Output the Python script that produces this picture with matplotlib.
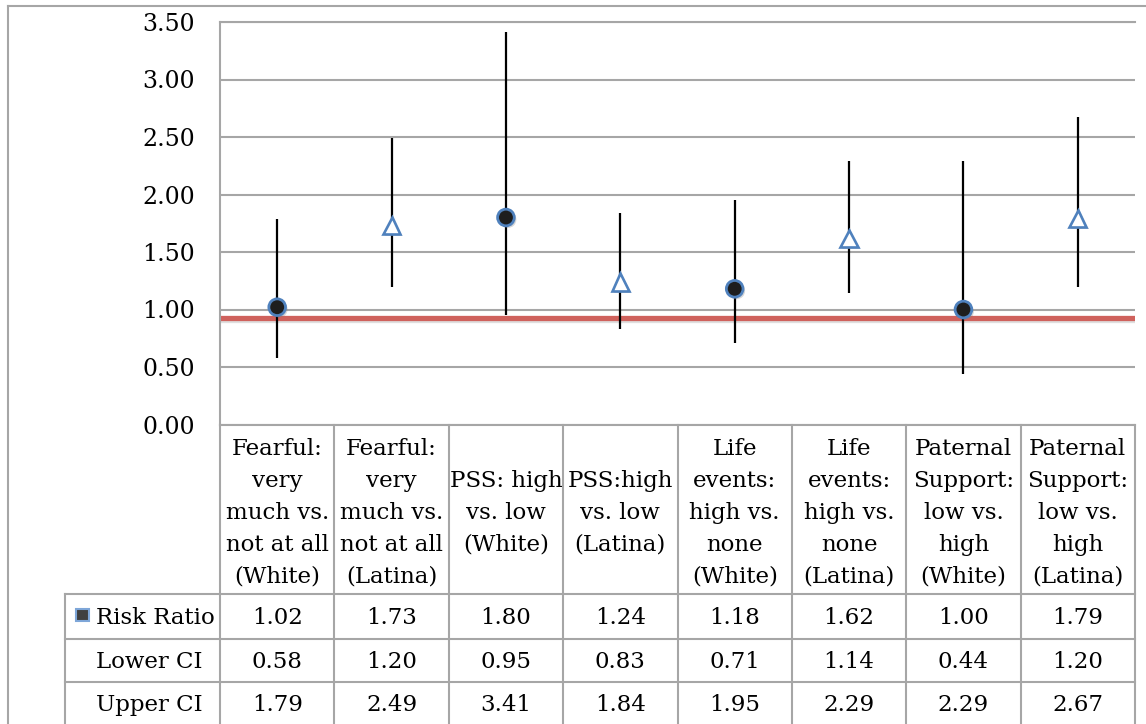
import matplotlib as mpl

mpl.use("Agg")

import matplotlib.pyplot as plt
import matplotlib.patheffects as pe
import numpy as np
from matplotlib.lines import Line2D
from matplotlib.patches import Rectangle
from matplotlib.transforms import blended_transform_factory


CATEGORIES = [
    "Fearful:\nvery\nmuch vs.\nnot at all\n(White)",
    "Fearful:\nvery\nmuch vs.\nnot at all\n(Latina)",
    "PSS: high\nvs. low\n(White)",
    "PSS:high\nvs. low\n(Latina)",
    "Life\nevents:\nhigh vs.\nnone\n(White)",
    "Life\nevents:\nhigh vs.\nnone\n(Latina)",
    "Paternal\nSupport:\nlow vs.\nhigh\n(White)",
    "Paternal\nSupport:\nlow vs.\nhigh\n(Latina)",
]
GROUPS = ["White", "Latina", "White", "Latina", "White", "Latina", "White", "Latina"]
RISK_RATIO = [1.02, 1.73, 1.80, 1.24, 1.18, 1.62, 1.00, 1.79]
LOWER_CI = [0.58, 1.20, 0.95, 0.83, 0.71, 1.14, 0.44, 1.20]
UPPER_CI = [1.79, 2.49, 3.41, 1.84, 1.95, 2.29, 2.29, 2.67]
ROW_NAMES = ["Risk Ratio", "Lower CI", "Upper CI"]
REFERENCE_LEVEL = 0.93
Y_TICKS = [0.0, 0.5, 1.0, 1.5, 2.0, 2.5, 3.0, 3.5]

W, H = 1146, 724
FONT = "DejaVu Serif"
FS = 16.5
GRID = "#a6a6a6"
BLUE = "#4f81bd"
RED = "#cf615c"

plt.rcParams["font.family"] = FONT

fig = plt.figure(figsize=(W / 100, H / 100), dpi=100)
fig.patch.set_facecolor("white")

# plot area in pixel terms
left_px, right_px, top_px, zero_px = 220, 1135, 22, 424.5
ax = fig.add_axes([left_px / W, 1 - zero_px / H, (right_px - left_px) / W, (zero_px - top_px) / H])


def fy(y_px):
    return 1 - y_px / H


def fx(x_px):
    return x_px / W


x = np.arange(len(CATEGORIES))

# reference line
ax.axhline(
    REFERENCE_LEVEL,
    color=RED,
    linewidth=3.8,
    zorder=2,
    path_effects=[pe.SimpleLineShadow(offset=(1, -1.5), alpha=0.25, shadow_color="gray"), pe.Normal()],
)

# confidence intervals
ax.vlines(x, LOWER_CI, UPPER_CI, color="black", linewidth=1.6, zorder=3)

# risk ratio markers
shadow = [pe.SimplePatchShadow(offset=(1.5, -1.5), alpha=0.3, shadow_rgbFace="gray"), pe.Normal()]
for i, (val, grp) in enumerate(zip(RISK_RATIO, GROUPS)):
    if grp == "White":
        ax.plot(i, val, marker="o", markersize=12, markerfacecolor="#1e1e1e",
                markeredgecolor=BLUE, markeredgewidth=2.0, linestyle="none",
                zorder=4, path_effects=shadow)
    else:
        ax.plot(i, val, marker="^", markersize=12.5, markerfacecolor="white",
                markeredgecolor=BLUE, markeredgewidth=1.9, linestyle="none",
                zorder=4, path_effects=shadow)

ax.set_xlim(-0.5, len(CATEGORIES) - 0.5)
ax.set_ylim(0, 3.5)
ax.set_yticks(Y_TICKS)
ax.set_yticklabels([f"{t:.2f}" for t in Y_TICKS])
ax.set_xticks([])
ax.tick_params(axis="y", length=0, pad=18, labelsize=FS + 0.5)
ax.yaxis.grid(True, color=GRID, linewidth=1.5)
ax.set_axisbelow(True)
for side in ["left", "bottom", "top"]:
    ax.spines[side].set_color(GRID)
    ax.spines[side].set_linewidth(1.5)
ax.spines["right"].set_visible(False)

# outer chart border
fig.add_artist(Line2D([fx(8), fx(8)], [fy(6), fy(H + 5)], transform=fig.transFigure, color=GRID, linewidth=1.5))
fig.add_artist(Line2D([fx(8), fx(W + 5)], [fy(6), fy(6)], transform=fig.transFigure, color=GRID, linewidth=1.5))

# data table
trans = blended_transform_factory(ax.transData, fig.transFigure)
header_top, header_bottom = 425, 594
row_edges = [594, 639, 682, 726]
line_gap = 32

for b in np.arange(-0.5, len(CATEGORIES), 1.0):
    fig.add_artist(Line2D([b, b], [fy(header_top), fy(H + 5)], transform=trans, color=GRID, linewidth=1.5))
fig.add_artist(Line2D([fx(65), fx(65)], [fy(header_bottom), fy(H + 5)], transform=fig.transFigure, color=GRID, linewidth=1.5))
for y in row_edges[:-1]:
    fig.add_artist(Line2D([fx(65), fx(right_px)], [fy(y), fy(y)], transform=fig.transFigure, color=GRID, linewidth=1.5))

mid = (header_top + header_bottom) / 2 + 3.5
for i, label in enumerate(CATEGORIES):
    lines = label.split("\n")
    n = len(lines)
    for k, line in enumerate(lines):
        yy = mid + (k - (n - 1) / 2) * line_gap
        fig.text(i, fy(yy), line, transform=trans, ha="center", va="center", fontsize=FS)

rows = [RISK_RATIO, LOWER_CI, UPPER_CI]
for r, (name, vals) in enumerate(zip(ROW_NAMES, rows)):
    yc = (row_edges[r] + row_edges[r + 1]) / 2 + 1
    fig.text(fx(96), fy(yc), name, ha="left", va="center", fontsize=FS)
    for i, v in enumerate(vals):
        fig.text(i, fy(yc), f"{v:.2f}", transform=trans, ha="center", va="center", fontsize=FS)

# legend key for the Risk Ratio row
fig.patches.append(Rectangle((fx(76), fy(621)), fx(13), 12 / H, transform=fig.transFigure,
                             facecolor="#404040", edgecolor="#7ea6d8", linewidth=1.5))

fig.savefig("out.png", dpi=100, facecolor="white")
